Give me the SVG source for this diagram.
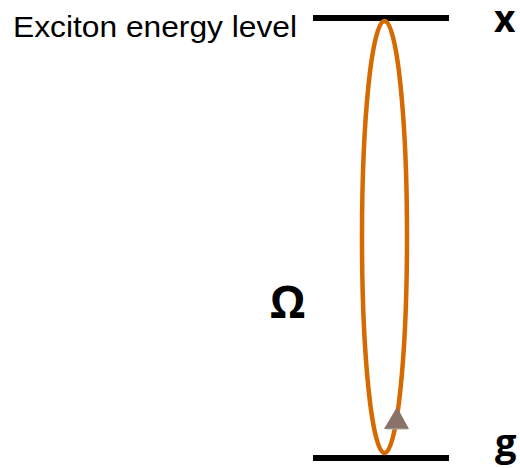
<svg xmlns="http://www.w3.org/2000/svg" width="520" height="468" viewBox="0 0 520 468">
<style>
.lvl{stroke:#000;stroke-width:6;fill:none}
.lbl{font-family:"Open Sans","Liberation Sans",sans-serif;font-weight:bold;fill:#000}
</style>
<rect width="520" height="468" fill="#fff"/>
<g id="excited-level">
<line class="lvl" x1="313" y1="18" x2="449" y2="18"/>
<text x="13" y="37" font-family="Liberation Sans, Arial, sans-serif" font-size="29.5" textLength="284" lengthAdjust="spacingAndGlyphs" fill="#000">Exciton energy level</text>
<text class="lbl" x="494" y="32" font-size="37">x</text>
</g>
<g id="ground-level">
<line class="lvl" x1="313" y1="458" x2="449" y2="458"/>
<text class="lbl" x="495" y="456" font-size="38">g</text>
</g>
<g id="connectors">
<ellipse cx="384.5" cy="237" rx="22.5" ry="216" fill="none" stroke="#D46A00" stroke-width="4.5"/>
<polygon points="397,407 384,429 409,429" fill="#8B7268"/>
<line x1="386" y1="429" x2="407" y2="429" stroke="#aaa" stroke-width="1"/>
</g>
<g id="omega">
<text class="lbl" x="270" y="318" font-size="45" font-family="Liberation Sans, sans-serif">Ω</text>
</g>
</svg>
